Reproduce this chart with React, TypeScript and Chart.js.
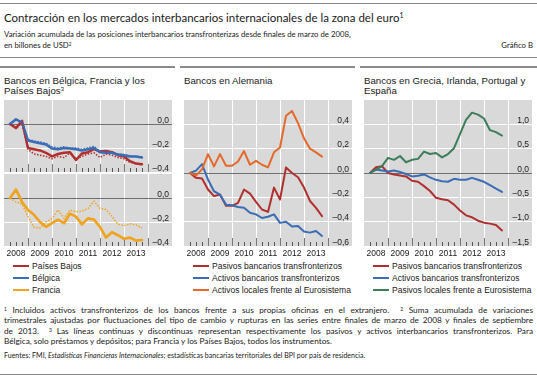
import React, { useEffect, useRef } from "react";
import { Chart, registerables } from "chart.js";
Chart.register(...registerables);

// ---------------- DATA ----------------
const quarters = [
  "2008T1", "2008T2", "2008T3", "2008T4",
  "2009T1", "2009T2", "2009T3", "2009T4",
  "2010T1", "2010T2", "2010T3", "2010T4",
  "2011T1", "2011T2", "2011T3", "2011T4",
  "2012T1", "2012T2", "2012T3", "2012T4",
  "2013T1", "2013T2", "2013T3",
];
const yearLabels = ["2008", "2009", "2010", "2011", "2012", "2013"];
const yearTickValues = [4, 8, 12, 16, 20, 24];

// Panel 1: Bélgica, Francia y Países Bajos (solid = pasivos, dotted = activos)
const nlLiab = [0, -0.033, 0.027, -0.2, -0.21, -0.22, -0.24, -0.27, -0.25, -0.24, -0.235, -0.3, -0.245, -0.235, -0.21, -0.23, -0.225, -0.235, -0.26, -0.27, -0.31, -0.33, -0.335];
const nlAssets = [0, -0.04, 0.01, -0.21, -0.25, -0.26, -0.27, -0.29, -0.27, -0.28, -0.24, -0.29, -0.27, -0.25, -0.24, -0.28, -0.25, -0.26, -0.28, -0.29, -0.32, -0.33, -0.34];
const beLiab = [0, 0.04, 0.01, -0.137, -0.15, -0.16, -0.17, -0.205, -0.21, -0.2, -0.205, -0.21, -0.22, -0.21, -0.2, -0.235, -0.24, -0.24, -0.255, -0.26, -0.27, -0.27, -0.28];
const beAssets = [0, 0.035, 0.02, -0.13, -0.14, -0.15, -0.16, -0.19, -0.2, -0.19, -0.2, -0.2, -0.21, -0.2, -0.185, -0.23, -0.235, -0.24, -0.25, -0.255, -0.265, -0.27, -0.275];
const frLiab = [0, 0.07, -0.033, -0.1, -0.14, -0.2, -0.24, -0.21, -0.18, -0.21, -0.13, -0.155, -0.22, -0.17, -0.18, -0.24, -0.33, -0.285, -0.31, -0.34, -0.33, -0.355, -0.35];
const frAssets = [0, -0.033, -0.05, -0.155, -0.245, -0.25, -0.2, -0.17, -0.1, -0.17, -0.1, -0.115, -0.11, -0.087, -0.025, -0.087, -0.095, -0.155, -0.22, -0.23, -0.215, -0.225, -0.25];

// Panel 2: Alemania
const deLiab = [0, -0.04, -0.046, -0.136, -0.19, -0.177, -0.27, -0.27, -0.245, -0.136, -0.17, -0.237, -0.3, -0.32, -0.12, -0.218, 0.046, 0, -0.035, -0.12, -0.23, -0.286, -0.354];
const deAssets = [0, 0.02, 0.073, -0.054, -0.15, -0.177, -0.26, -0.265, -0.28, -0.286, -0.327, -0.34, -0.37, -0.36, -0.34, -0.41, -0.4, -0.44, -0.435, -0.48, -0.49, -0.476, -0.517];
const deEuro = [0, -0.02, 0.03, 0.155, 0.054, 0.155, 0.06, 0.06, 0.095, 0.18, 0.068, 0.1, 0.068, 0.046, 0.17, 0.21, 0.47, 0.51, 0.41, 0.285, 0.2, 0.17, 0.135];

// Panel 3: Grecia, Irlanda, Portugal y España
const giLiab = [0, 0.12, 0.14, 0, -0.03, -0.05, -0.07, -0.16, -0.18, -0.27, -0.37, -0.51, -0.54, -0.56, -0.65, -0.77, -0.87, -0.91, -0.98, -1.02, -1.04, -1.07, -1.18];
const giAssets = [0, 0.07, 0.05, 0.03, 0.05, 0.02, -0.02, -0.07, -0.055, -0.03, -0.09, -0.14, -0.17, -0.18, -0.12, -0.14, -0.14, -0.1, -0.14, -0.18, -0.25, -0.32, -0.39];
const giEuro = [0, 0.07, 0.14, 0.31, 0.27, 0.35, 0.22, 0.27, 0.29, 0.44, 0.39, 0.41, 0.32, 0.39, 0.51, 0.8, 1.09, 1.24, 1.2, 1.12, 0.88, 0.84, 0.77];

const yTicksP1 = [-0.4, -0.2, 0, 0.2];
const yLabelsP1 = ["–0,4", "–0,2", "0,0", ""];
const yTicksP2 = [-0.6, -0.4, -0.2, 0, 0.2, 0.4, 0.6];
const yLabelsP2 = ["–0,6", "–0,4", "–0,2", "0,0", "0,2", "0,4", ""];
const yTicksP3 = [-1.5, -1, -0.5, 0, 0.5, 1, 1.5];
const yLabelsP3 = ["–1,5", "–1,0", "–0,5", "0,0", "0,5", "1,0", ""];

// ---------------- STYLE ----------------
const RED = "#b0302f";
const BLUE = "#3a6db5";
const GOLD = "#f0a31e";
const ORANGE = "#e4692a";
const GREEN = "#3d7d5b";
const GREY_BG = "#d9d9d9";
const ARIAL = '"Liberation Sans", Arial, sans-serif';
const LATO = 'Lato, "Liberation Sans", sans-serif';
const TEXT = "#1a1a1a";

const qIndex = (q: string) => (parseInt(q.slice(0, 4), 10) - 2008) * 4 + parseInt(q.slice(5), 10);

let measureCtx: CanvasRenderingContext2D | null = null;
function textWidth(text: string, family: string, style = "normal") {
  if (!measureCtx) measureCtx = document.createElement("canvas").getContext("2d");
  measureCtx!.font = `${style} normal 100px ${family}`;
  return measureCtx!.measureText(text).width / 100;
}
function fitSize(text: string, family: string, target: number, style = "normal") {
  return target / textWidth(text, family, style);
}

type DS = { values: number[]; color: string; width: number; dash?: number[] };

type PlotProps = {
  left: number; top: number; width: number; height: number; axisH: number;
  yTicks: number[]; yLabels: string[]; datasets: DS[]; showX: boolean;
};

function Plot(p: PlotProps) {
  const ref = useRef<HTMLCanvasElement>(null);
  useEffect(() => {
    const yMin = p.yTicks[0];
    const yMax = p.yTicks[p.yTicks.length - 1];
    const bgPlugin = {
      id: "bg",
      beforeDraw(chart: any) {
        const { ctx, chartArea: a } = chart;
        ctx.save();
        ctx.fillStyle = GREY_BG;
        ctx.fillRect(a.left, a.top, a.right - a.left, a.bottom - a.top);
        ctx.restore();
      },
    };
    const marksPlugin = {
      id: "marks",
      beforeDatasetsDraw(chart: any) {
        const { ctx, chartArea: a, scales } = chart;
        ctx.save();
        ctx.lineWidth = 1;
        for (let q = 1; q <= 24; q++) {
          const x = Math.round(scales.x.getPixelForValue(q)) + 0.5;
          const isYear = q % 4 === 0;
          ctx.strokeStyle = isYear ? "#7a7a7a" : "#555555";
          ctx.beginPath();
          ctx.moveTo(x, a.bottom);
          ctx.lineTo(x, a.bottom - (isYear ? 8 : 4));
          ctx.stroke();
        }
        ctx.restore();
      },
      afterDraw(chart: any) {
        const { ctx, chartArea: a, scales } = chart;
        ctx.save();
        ctx.font = `8.5px ${ARIAL}`;
        ctx.fillStyle = TEXT;
        ctx.textAlign = "right";
        ctx.textBaseline = "alphabetic";
        p.yTicks.forEach((v, i) => {
          const lab = p.yLabels[i];
          if (!lab) return;
          const y = scales.y.getPixelForValue(v);
          ctx.fillText(lab, a.right - 3, y - 1.5);
        });
        ctx.restore();
      },
    };
    const chart = new Chart(ref.current!, {
      type: "line",
      data: {
        datasets: p.datasets.map((d) => ({
          data: d.values.map((v, i) => ({ x: qIndex(quarters[i]), y: v })),
          borderColor: d.color,
          borderWidth: d.width,
          borderDash: d.dash || [],
          pointRadius: 0,
          tension: 0,
          fill: false,
          borderJoinStyle: "round",
          borderCapStyle: d.dash ? "butt" : "round",
        })),
      },
      options: {
        animation: false,
        responsive: false,
        maintainAspectRatio: false,
        layout: { padding: 0 },
        plugins: { legend: { display: false }, tooltip: { enabled: false } },
        scales: {
          x: {
            type: "linear",
            min: 0,
            max: 28,
            border: { display: false },
            grid: {
              drawTicks: false,
              lineWidth: 1,
              color: (c: any) => (c.tick && c.tick.value > 0 && c.tick.value <= 24 ? "#ffffff" : "rgba(0,0,0,0)"),
            },
            ticks: {
              display: p.showX,
              autoSkip: false,
              maxRotation: 0,
              minRotation: 0,
              padding: 3,
              labelOffset: -12,
              color: TEXT,
              font: { family: ARIAL, size: 8.5 },
              callback: (v: any) => yearLabels[yearTickValues.indexOf(Number(v))] ?? "",
            },
            afterBuildTicks: (s: any) => {
              s.ticks = yearTickValues.map((v) => ({ value: v }));
            },
            afterFit: (s: any) => {
              s.height = p.axisH;
            },
          },
          y: {
            type: "linear",
            position: "right",
            min: yMin,
            max: yMax,
            border: { display: false },
            ticks: { display: false },
            afterBuildTicks: (s: any) => {
              s.ticks = p.yTicks.map((v) => ({ value: v }));
            },
            grid: {
              drawTicks: false,
              lineWidth: 1,
              color: (c: any) => {
                const v = c.tick ? c.tick.value : NaN;
                if (Math.abs(v) < 1e-9) return "#707070";
                if (v <= yMin + 1e-9 || v >= yMax - 1e-9) return "rgba(0,0,0,0)";
                return "#ffffff";
              },
            },
            afterFit: (s: any) => {
              s.width = 0;
            },
          },
        },
      } as any,
      plugins: [bgPlugin, marksPlugin],
    });
    return () => chart.destroy();
  }, []);
  const h = p.height + p.axisH;
  return (
    <canvas
      ref={ref}
      width={p.width}
      height={h}
      style={{ position: "absolute", left: p.left, top: p.top, width: p.width, height: h }}
    />
  );
}

function Txt(props: { x: number; cy: number; size: number; family?: string; children: any; style?: React.CSSProperties }) {
  const lh = Math.round(props.size * 1.3);
  return (
    <div
      style={{
        position: "absolute",
        left: props.x,
        top: props.cy - lh / 2,
        fontSize: props.size,
        lineHeight: `${lh}px`,
        fontFamily: props.family || ARIAL,
        color: TEXT,
        whiteSpace: "nowrap",
        ...props.style,
      }}
    >
      {props.children}
    </div>
  );
}

function Rule({ x, y, w }: { x: number; y: number; w: number }) {
  return <div style={{ position: "absolute", left: x, top: y, width: w, height: 1.5, background: "#8a8a8a" }} />;
}

function Legend({ x, items }: { x: number; items: { label: string; color: string }[] }) {
  const rows = [266, 278, 290];
  return (
    <>
      {items.map((it, i) => (
        <React.Fragment key={i}>
          <div style={{ position: "absolute", left: x + 9, top: rows[i] - 1, width: 16, height: 2, background: it.color }} />
          <Txt x={x + 28} cy={rows[i]} size={8.5}>{it.label}</Txt>
        </React.Fragment>
      ))}
    </>
  );
}

export default function App() {
  const titleSize = fitSize("Contracción en los mercados interbancarios internacionales de la zona del euro", LATO, 396);
  const subSize = fitSize("Variación acumulada de las posiciones interbancarios transfronterizas desde finales de marzo de 2008,", LATO, 347);
  const noteSize = fitSize("Bélgica, solo préstamos y depósitos; para Francia y los Países Bajos, todos los instrumentos.", LATO, 329);
  const srcW =
    textWidth("Fuentes: FMI, ", LATO) +
    textWidth("Estadísticas Financieras Internacionales", LATO, "italic") +
    textWidth("; estadísticas bancarias territoriales del BPI por país de residencia.", LATO);
  const srcSize = 362 / srcW;
  const panelTitleSize = fitSize("Bancos en Bélgica, Francia y los", ARIAL, 141);

  const P = [4, 184, 364];
  const sup = (s: string, size: number) => (
    <span style={{ fontSize: size * 0.6, verticalAlign: "top", position: "relative", top: -size * 0.1 }}>{s}</span>
  );
  const noteLine = (cy: number, content: any, justify: boolean) => (
    <div
      style={{
        position: "absolute",
        left: 4,
        top: cy - noteSize * 0.65,
        width: 529,
        fontSize: noteSize,
        lineHeight: `${noteSize * 1.3}px`,
        fontFamily: LATO,
        color: TEXT,
        whiteSpace: "nowrap",
        textAlign: justify ? "justify" : "left",
        textAlignLast: justify ? "justify" : "left",
      } as any}
    >
      {content}
    </div>
  );

  return (
    <div style={{ position: "absolute", left: 0, top: 0, width: 537, height: 380, background: "#fff", overflow: "hidden" }}>
      <Rule x={0} y={2.5} w={537} />
      <Txt x={4} cy={17} size={titleSize} family={LATO}>
        Contracción en los mercados interbancarios internacionales de la zona del euro{sup("1", titleSize)}
      </Txt>
      <Txt x={4} cy={33.5} size={subSize} family={LATO}>
        Variación acumulada de las posiciones interbancarios transfronterizas desde finales de marzo de 2008,
      </Txt>
      <Txt x={4} cy={45} size={subSize} family={LATO}>
        en billones de USD{sup("2", subSize)}
      </Txt>
      <Txt x={433} cy={45} size={subSize} family={LATO} style={{ width: 100, textAlign: "right" }}>
        Gráfico B
      </Txt>
      <Rule x={0} y={56.5} w={537} />

      {/* panel rules */}
      <Rule x={0} y={66} w={175} />
      <Rule x={180} y={66} w={175} />
      <Rule x={360} y={66} w={177} />

      {/* panel titles */}
      <Txt x={P[0]} cy={80} size={panelTitleSize}>Bancos en Bélgica, Francia y los</Txt>
      <Txt x={P[0]} cy={90.5} size={panelTitleSize}>Países Bajos{sup("3", panelTitleSize)}</Txt>
      <Txt x={P[1]} cy={80} size={panelTitleSize}>Bancos en Alemania</Txt>
      <Txt x={P[2]} cy={80} size={panelTitleSize}>Bancos en Grecia, Irlanda, Portugal y</Txt>
      <Txt x={P[2]} cy={90.5} size={panelTitleSize}>España</Txt>

      {/* charts */}
      <Plot
        left={P[0]} top={100} width={168} height={72} axisH={0} showX={false}
        yTicks={yTicksP1} yLabels={yLabelsP1}
        datasets={[
          { values: beAssets, color: BLUE, width: 1.5, dash: [1.5, 1.5] },
          { values: nlAssets, color: RED, width: 1.5, dash: [1.5, 1.5] },
          { values: beLiab, color: BLUE, width: 2.5 },
          { values: nlLiab, color: RED, width: 2.5 },
        ]}
      />
      <Plot
        left={P[0]} top={174} width={168} height={72} axisH={14} showX={true}
        yTicks={yTicksP1} yLabels={yLabelsP1}
        datasets={[
          { values: frAssets, color: GOLD, width: 1.5, dash: [1.5, 1.5] },
          { values: frLiab, color: GOLD, width: 2.7 },
        ]}
      />
      <Plot
        left={P[1]} top={100} width={168} height={146} axisH={14} showX={true}
        yTicks={yTicksP2} yLabels={yLabelsP2}
        datasets={[
          { values: deEuro, color: ORANGE, width: 2 },
          { values: deAssets, color: BLUE, width: 2 },
          { values: deLiab, color: RED, width: 2 },
        ]}
      />
      <Plot
        left={P[2]} top={100} width={168} height={146} axisH={14} showX={true}
        yTicks={yTicksP3} yLabels={yLabelsP3}
        datasets={[
          { values: giEuro, color: GREEN, width: 2 },
          { values: giAssets, color: BLUE, width: 2 },
          { values: giLiab, color: RED, width: 2 },
        ]}
      />

      {/* legends */}
      <Legend x={P[0]} items={[
        { label: "Países Bajos", color: RED },
        { label: "Bélgica", color: BLUE },
        { label: "Francia", color: GOLD },
      ]} />
      <Legend x={P[1]} items={[
        { label: "Pasivos bancarios transfronterizos", color: RED },
        { label: "Activos bancarios transfronterizos", color: BLUE },
        { label: "Activos locales frente al Eurosistema", color: ORANGE },
      ]} />
      <Legend x={P[2]} items={[
        { label: "Pasivos bancarios transfronterizos", color: RED },
        { label: "Activos  bancarios transfronterizos", color: BLUE },
        { label: "Pasivos locales frente a Eurosistema", color: GREEN },
      ]} />

      {/* footnotes */}
      {noteLine(310, <>{sup("1", noteSize)} Incluidos activos transfronterizos de los bancos frente a sus propias oficinas en el extranjero.&nbsp; {sup("2", noteSize)} Suma acumulada de variaciones</>, true)}
      {noteLine(320.5, <>trimestrales ajustadas por fluctuaciones del tipo de cambio y rupturas en las series entre finales de marzo de 2008 y finales de septiembre</>, true)}
      {noteLine(331, <>de 2013.&nbsp; {sup("3", noteSize)} Las líneas continuas y discontinuas representan respectivamente los pasivos y activos interbancarios transfronterizos. Para</>, true)}
      {noteLine(341, <>Bélgica, solo préstamos y depósitos; para Francia y los Países Bajos, todos los instrumentos.</>, false)}
      <Txt x={4} cy={355.5} size={srcSize} family={LATO}>
        Fuentes: FMI, <i>Estadísticas Financieras Internacionales</i>; estadísticas bancarias territoriales del BPI por país de residencia.
      </Txt>
      <Rule x={0} y={373.5} w={537} />
    </div>
  );
}
